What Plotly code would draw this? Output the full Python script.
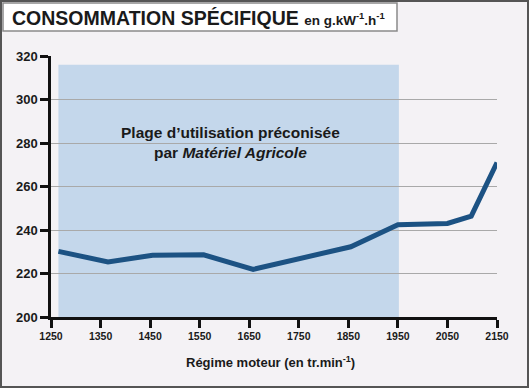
import plotly.graph_objects as go

regime = [1265, 1365, 1455, 1558, 1658, 1855, 1950, 2050, 2098, 2150]
conso = [230.2, 225.3, 228.4, 228.6, 221.9, 232.3, 242.4, 243.0, 246.4, 271.0]
zone_x = [1265, 1952]
zone_top = 316
x_ticks = [1250, 1350, 1450, 1550, 1650, 1750, 1850, 1950, 2050, 2150]
y_ticks = [200, 220, 240, 260, 280, 300, 320]

W, H = 529, 388
L, R, T, B = 51, 32, 56, 71
PW, PH = W - L - R, H - T - B

def px(x):
    return (x - L) / PW

def py(y):
    return (H - B - y) / PH

FONT = "Liberation Sans, Arial"

fig = go.Figure()
fig.add_trace(go.Scatter(
    x=regime, y=conso, mode="lines",
    line=dict(color="#1c5283", width=5), hoverinfo="skip", showlegend=False))

fig.add_shape(type="rect", xref="x", yref="y", x0=zone_x[0], x1=zone_x[1], y0=200, y1=zone_top,
              fillcolor="#c4d7eb", line=dict(width=0), layer="below")

# outer border
fig.add_shape(type="rect", xref="paper", yref="paper", x0=px(1), x1=px(W - 1), y0=py(H - 1), y1=py(1),
              line=dict(color="#555555", width=2), fillcolor="rgba(0,0,0,0)", layer="above")
# title box
fig.add_shape(type="rect", xref="paper", yref="paper", x0=px(3), x1=px(397), y0=py(31), y1=py(3),
              line=dict(color="#8a8a8a", width=1.5), fillcolor="white", layer="above")

fig.add_annotation(xref="paper", yref="paper", x=px(10), y=py(18), xanchor="left", yanchor="middle",
                   text="<b>CONSOMMATION SPÉCIFIQUE</b> <span style='font-size:13.5px'><b>en g.kW<sup>-1</sup>.h<sup>-1</sup></b></span>",
                   showarrow=False, font=dict(family=FONT, size=19.5, color="#1a1a1a"))

fig.add_annotation(xref="paper", yref="paper", x=px(230), y=py(142), xanchor="center", yanchor="middle",
                   text="<b>Plage d’utilisation préconisée<br>par <i>Matériel Agricole</i></b>",
                   showarrow=False, font=dict(family=FONT, size=15.5, color="#1a1a1a"))

fig.add_annotation(xref="paper", yref="paper", x=px(270), y=py(362), xanchor="center", yanchor="middle",
                   text="<b>Régime moteur (en tr.min<sup>-1</sup>)</b>",
                   showarrow=False, font=dict(family=FONT, size=13, color="#1a1a1a"))

fig.update_layout(
    width=W, height=H,
    margin=dict(l=L, r=R, t=T, b=B),
    paper_bgcolor="#f4f2f5", plot_bgcolor="#f4f2f5",
    font=dict(family=FONT, color="#1a1a1a"),
    xaxis=dict(range=[1250, 2150], tickvals=x_ticks, ticktext=["<b>%d</b>" % v for v in x_ticks],
               showgrid=False, zeroline=False, showline=True, linecolor="#111", linewidth=2.5,
               ticks="outside", ticklen=8, tickwidth=2.5, tickcolor="#111",
               tickfont=dict(family=FONT, size=10.5, color="#1a1a1a")),
    yaxis=dict(range=[200, 320], tickvals=y_ticks, ticktext=["<b>%d</b>" % v for v in y_ticks],
               showgrid=True, gridcolor="#a9a9a9", gridwidth=1.2,
               zeroline=False, showline=True, linecolor="#111", linewidth=2.5,
               ticks="outside", ticklen=8, tickwidth=2.5, tickcolor="#111",
               tickfont=dict(family=FONT, size=13, color="#1a1a1a")),
)

fig.write_html("out.html", config={"displayModeBar": False},
               post_script="document.body.style.margin='0';document.body.style.overflow='hidden';")
